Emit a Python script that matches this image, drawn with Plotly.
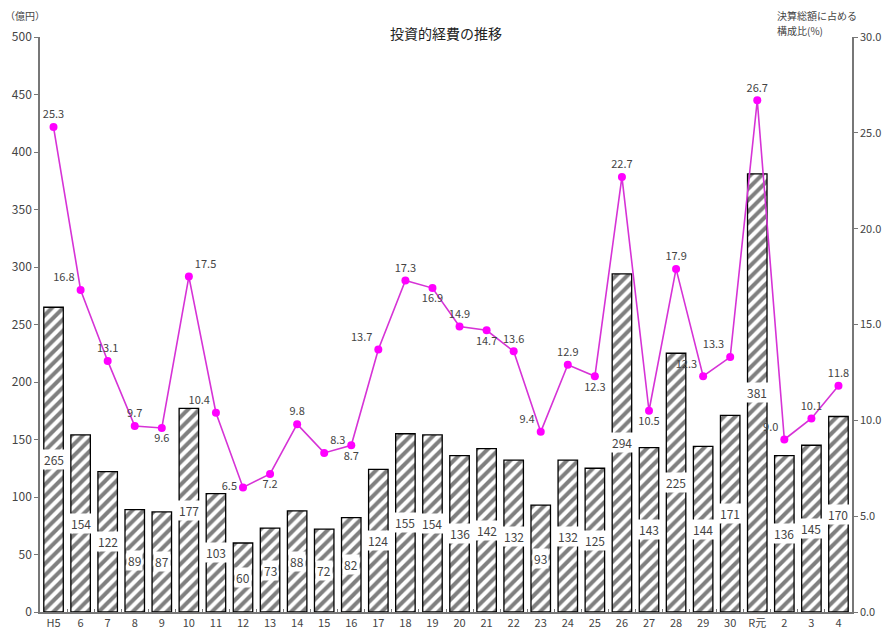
import plotly.graph_objects as go

categories = ["H5", "6", "7", "8", "9", "10", "11", "12", "13", "14", "15", "16", "17", "18", "19",
              "20", "21", "22", "23", "24", "25", "26", "27", "28", "29", "30", "R元", "2", "3", "4"]
expenses = [265, 154, 122, 89, 87, 177, 103, 60, 73, 88, 72, 82, 124, 155, 154,
            136, 142, 132, 93, 132, 125, 294, 143, 225, 144, 171, 381, 136, 145, 170]
ratios = [25.3, 16.8, 13.1, 9.7, 9.6, 17.5, 10.4, 6.5, 7.2, 9.8, 8.3, 8.7, 13.7, 17.3, 16.9,
          14.9, 14.7, 13.6, 9.4, 12.9, 12.3, 22.7, 10.5, 17.9, 12.3, 13.3, 26.7, 9.0, 10.1, 11.8]
ratio_label_pos = ["top center", "top left", "top center", "top center", "bottom center",
                   "top right", "top left", "middle left", "bottom center", "top center",
                   "top right", "bottom center", "top left", "top center", "bottom center",
                   "top center", "bottom center", "top center", "top left", "top center",
                   "bottom center", "top center", "bottom center", "top center", "top left",
                   "top left", "top center", "top left", "top center", "top center"]

FONT = "Noto Sans CJK JP, Noto Sans, sans-serif"
TXT = "#444444"

fig = go.Figure()
fig.add_trace(go.Bar(
    x=categories, y=expenses, width=0.72,
    marker=dict(color="white", line=dict(color="black", width=1.3),
                pattern=dict(shape="/", fgcolor="black", bgcolor="white", size=8, solidity=0.5)),
    hoverinfo="x+y", showlegend=False,
))
fig.add_trace(go.Scatter(
    x=categories, y=ratios, yaxis="y2", mode="lines+markers+text",
    line=dict(color="#D633D6", width=1.6),
    marker=dict(color="#FF00FF", size=8),
    text=[f"{v:.1f}" for v in ratios], textposition=ratio_label_pos,
    textfont=dict(family=FONT, size=11, color=TXT),
    cliponaxis=False, showlegend=False,
))

annotations = []
for i, v in enumerate(expenses):
    annotations.append(dict(x=i, y=v / 2, xref="x", yref="y", text=str(v), showarrow=False,
                            bgcolor="white", borderpad=1,
                            font=dict(family=FONT, size=12, color=TXT)))
annotations += [
    dict(text="投資的経費の推移", x=0.5, y=1.0, xref="paper", yref="paper", xanchor="center",
         yanchor="middle", yshift=4, showarrow=False,
         font=dict(family=FONT, size=14, color="#222222")),
    dict(text="（億円）", x=-0.045, y=1.0, xref="paper", yref="paper", xanchor="left",
         yanchor="middle", yshift=22, showarrow=False,
         font=dict(family=FONT, size=10, color=TXT)),
    dict(text="決算総額に占める", x=0.905, y=1.0, xref="paper", yref="paper",
         xanchor="left", yanchor="middle", yshift=22, showarrow=False,
         font=dict(family=FONT, size=10, color=TXT)),
    dict(text="構成比(%)", x=0.905, y=1.0, xref="paper", yref="paper",
         xanchor="left", yanchor="middle", yshift=7, showarrow=False,
         font=dict(family=FONT, size=10, color=TXT)),
]

fig.update_layout(
    width=886, height=631,
    margin=dict(l=40, r=34, t=37, b=19, autoexpand=False),
    paper_bgcolor="white", plot_bgcolor="white",
    font=dict(family=FONT, size=11, color=TXT),
    bargap=0.28,
    xaxis=dict(type="category", range=[-0.5, len(categories) - 0.5], automargin=False,
               showline=True, linecolor="#777777", linewidth=1.5, ticks="inside", ticklen=3,
               tickson="boundaries", tickcolor="#777777", showgrid=False, tickangle=0,
               tickfont=dict(size=11, color=TXT), fixedrange=True),
    yaxis=dict(range=[0, 500], dtick=50, showline=True, linecolor="#777777", linewidth=1.5,
               automargin=False,
               ticks="outside", ticklen=4, tickcolor="#777777", showgrid=False, zeroline=False,
               tickfont=dict(size=12, color=TXT)),
    yaxis2=dict(range=[0, 30], dtick=5, tickformat=".1f", overlaying="y", side="right",
                automargin=False,
                showline=True, linecolor="#777777", linewidth=1.5, ticks="outside", ticklen=4,
                tickcolor="#777777", showgrid=False, zeroline=False,
                tickfont=dict(size=11, color=TXT)),
    annotations=annotations,
)
fig.write_html("out.html", config={"displayModeBar": False},
               post_script="document.body.style.margin='0';document.body.style.overflow='hidden';")
